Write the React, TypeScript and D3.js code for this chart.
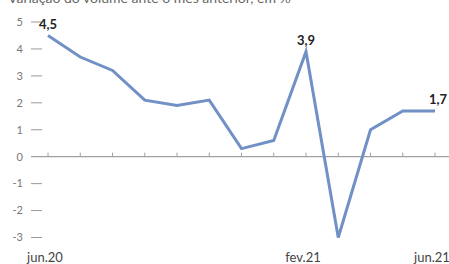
import React, { useEffect, useRef } from 'react';
import * as d3 from 'd3';

const months = ['jun.20', 'jul.20', 'ago.20', 'set.20', 'out.20', 'nov.20', 'dez.20', 'jan.21', 'fev.21', 'mar.21', 'abr.21', 'mai.21', 'jun.21'];
const values = [4.5, 3.7, 3.2, 2.1, 1.9, 2.1, 0.3, 0.6, 3.9, -3.0, 1.0, 1.7, 1.7];
const yTicks = [5, 4, 3, 2, 1, 0, -1, -2, -3];
const xLabels = ['jun.20', 'fev.21', 'jun.21'];
const highlighted = ['jun.20', 'fev.21', 'jun.21'];
const title = 'Variação do volume ante o mês anterior, em %';

const App: React.FC = () => {
  const svgRef = useRef<SVGSVGElement>(null);
  const width = 449;
  const height = 264;

  useEffect(() => {
    if (!svgRef.current) return;
    const svg = d3.select(svgRef.current);
    svg.selectAll('*').remove();

    const font = 'Lato, "Open Sans", sans-serif';

    const x = d3.scalePoint<string>().domain(months).range([48, 435]);
    const y = d3.scaleLinear().domain([-3, 5]).range([237.5, 22]);

    // title (clipped at the top)
    svg.append('text')
      .attr('x', 8)
      .attr('y', 3)
      .attr('font-family', font)
      .attr('font-size', 14)
      .attr('fill', '#666')
      .text(title);

    // y tick labels + dashes
    const yg = svg.append('g');
    yTicks.forEach(t => {
      yg.append('text')
        .attr('x', 23)
        .attr('y', y(t))
        .attr('dy', '0.35em')
        .attr('text-anchor', 'end')
        .attr('font-family', font)
        .attr('font-size', 11)
        .attr('fill', '#777')
        .text(t);
      if (t !== 0) {
        yg.append('line')
          .attr('x1', 31).attr('x2', 42)
          .attr('y1', y(t)).attr('y2', y(t))
          .attr('stroke', '#999')
          .attr('stroke-width', 1);
      }
    });

    // zero axis
    svg.append('line')
      .attr('x1', 31).attr('x2', width)
      .attr('y1', y(0)).attr('y2', y(0))
      .attr('stroke', '#a0a0a0')
      .attr('stroke-width', 1.2);

    svg.append('g')
      .selectAll('line')
      .data(months)
      .join('line')
      .attr('x1', d => x(d)!).attr('x2', d => x(d)!)
      .attr('y1', y(0)).attr('y2', y(0) - 4)
      .attr('stroke', '#a0a0a0')
      .attr('stroke-width', 1);

    // line
    const line = d3.line<number>()
      .x((_, i) => x(months[i])!)
      .y(d => y(d));

    svg.append('path')
      .datum(values)
      .attr('fill', 'none')
      .attr('stroke', '#7090c6')
      .attr('stroke-width', 3)
      .attr('stroke-linejoin', 'miter')
      .attr('d', line);

    // value labels
    const labelOffsets: Record<string, [number, number]> = {
      'jun.20': [0, -6],
      'fev.21': [0, -7],
      'jun.21': [3, -7],
    };
    highlighted.forEach(m => {
      const i = months.indexOf(m);
      const [dx, dy] = labelOffsets[m];
      svg.append('text')
        .attr('x', x(m)! + dx)
        .attr('y', y(values[i]) + dy)
        .attr('text-anchor', 'middle')
        .attr('font-family', font)
        .attr('font-size', 13)
        .attr('font-weight', 'bold')
        .attr('fill', '#222')
        .text(values[i].toFixed(1).replace('.', ','));
    });

    // x labels
    xLabels.forEach(m => {
      svg.append('text')
        .attr('x', x(m)! - 3)
        .attr('y', 262)
        .attr('text-anchor', 'middle')
        .attr('font-family', font)
        .attr('font-size', 13)
        .attr('fill', '#444')
        .text(m);
    });
  }, []);

  return (
    <svg
      ref={svgRef}
      width={width}
      height={height}
      style={{ position: 'absolute', left: 0, top: 0, background: '#fff' }}
    />
  );
};

export default App;
